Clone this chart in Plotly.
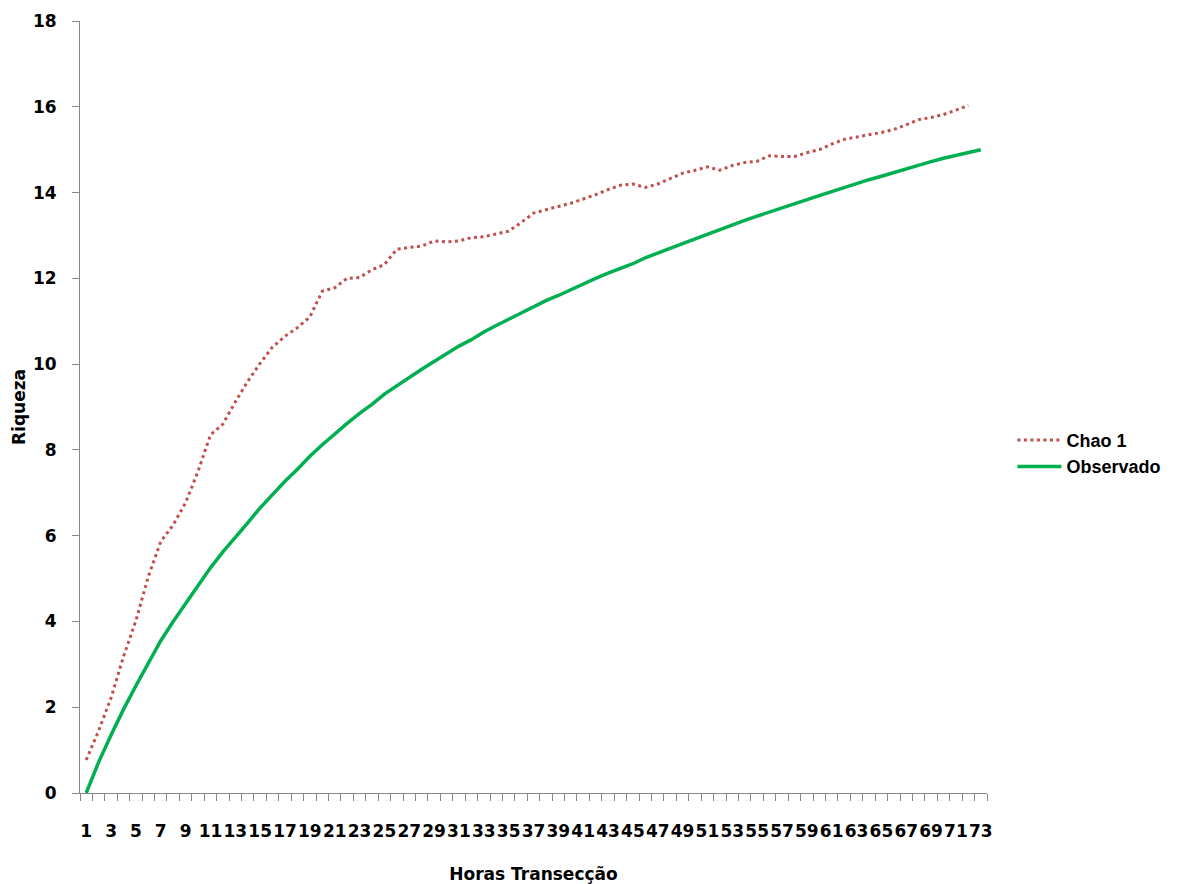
import plotly.graph_objects as go

# Hours of transect sampling (categories 1..73)
horas = list(range(1, 74))

# Chao 1 richness estimator (no value for the last hour)
chao1 = [0.77, 1.45, 2.22, 3.18, 4.02, 5.05, 5.86, 6.25, 6.77, 7.5,
         8.35, 8.6, 9.12, 9.6, 10.02, 10.4, 10.65, 10.85, 11.1, 11.7,
         11.78, 12.0, 12.02, 12.2, 12.32, 12.68, 12.72, 12.75, 12.87, 12.85,
         12.87, 12.95, 12.97, 13.03, 13.1, 13.3, 13.52, 13.6, 13.68, 13.75,
         13.85, 13.95, 14.07, 14.17, 14.2, 14.12, 14.2, 14.33, 14.45, 14.52,
         14.6, 14.52, 14.63, 14.7, 14.73, 14.86, 14.84, 14.84, 14.93, 15.0,
         15.13, 15.24, 15.3, 15.35, 15.4, 15.47, 15.58, 15.7, 15.75, 15.82,
         15.92, 16.03]

# Observed species accumulation
observado = [0.0, 0.72, 1.35, 1.95, 2.5, 3.03, 3.55, 4.0, 4.42, 4.85,
             5.25, 5.62, 5.95, 6.3, 6.65, 6.97, 7.27, 7.55, 7.85, 8.12,
             8.38, 8.62, 8.85, 9.06, 9.3, 9.5, 9.7, 9.88, 10.06, 10.25,
             10.42, 10.57, 10.75, 10.9, 11.05, 11.2, 11.35, 11.48, 11.6, 11.74,
             11.86, 12.0, 12.12, 12.23, 12.34, 12.48, 12.58, 12.7, 12.81, 12.92,
             13.03, 13.15, 13.25, 13.35, 13.45, 13.55, 13.63, 13.73, 13.83, 13.93,
             14.02, 14.12, 14.2, 14.3, 14.38, 14.47, 14.56, 14.64, 14.72, 14.8,
             14.87, 14.95, 15.0]

x_labels = [h for h in horas if h % 2 == 1]
y_ticks = list(range(0, 19, 2))

AXIS = "#868686"
TICK_FONT = dict(family="DejaVu Sans", size=17, color="#000000", weight="bold")
TITLE_FONT = dict(family="DejaVu Sans", size=17, color="#000000", weight="bold")

fig = go.Figure()
fig.add_trace(go.Scatter(
    x=horas[:len(chao1)], y=chao1, name="Chao 1", mode="lines",
    line=dict(color="#C0504D", width=3, dash="3px,3.5px"),
))
fig.add_trace(go.Scatter(
    x=horas, y=observado, name="Observado", mode="lines",
    line=dict(color="#00B050", width=3.5),
))

fig.update_layout(
    width=1178, height=884,
    margin=dict(l=80, r=191, t=21, b=91),
    paper_bgcolor="white", plot_bgcolor="white",
    showlegend=True,
    legend=dict(x=1.028, y=0.44, xanchor="left", yanchor="middle",
                font=dict(family="Liberation Sans", size=18, color="#000000",
                          weight="bold"),
                itemwidth=44, tracegroupgap=6),
    xaxis=dict(
        range=[0.5, 73.5], tickmode="array", tickvals=x_labels,
        ticktext=[str(v) for v in x_labels], tickangle=0,
        ticks="", showgrid=False, zeroline=False, automargin=False,
        showline=True, linecolor=AXIS, linewidth=1,
        tickfont=TICK_FONT, ticklabelstandoff=23,
        minor=dict(ticks="outside", tick0=0.5, dtick=1, ticklen=7,
                   tickcolor=AXIS, tickwidth=1, showgrid=False),
        title=dict(text="Horas Transecção", font=TITLE_FONT, standoff=34),
    ),
    yaxis=dict(
        range=[0, 18], tickmode="array", tickvals=y_ticks,
        ticktext=[str(v) for v in y_ticks],
        ticks="outside", ticklen=7, tickcolor=AXIS, tickwidth=1,
        showgrid=False, zeroline=False, automargin=False,
        showline=True, linecolor=AXIS, linewidth=1,
        tickfont=TICK_FONT, ticklabelstandoff=12,
        title=dict(text="Riqueza", font=TITLE_FONT, standoff=2),
    ),
)

fig.write_html("out.html")
